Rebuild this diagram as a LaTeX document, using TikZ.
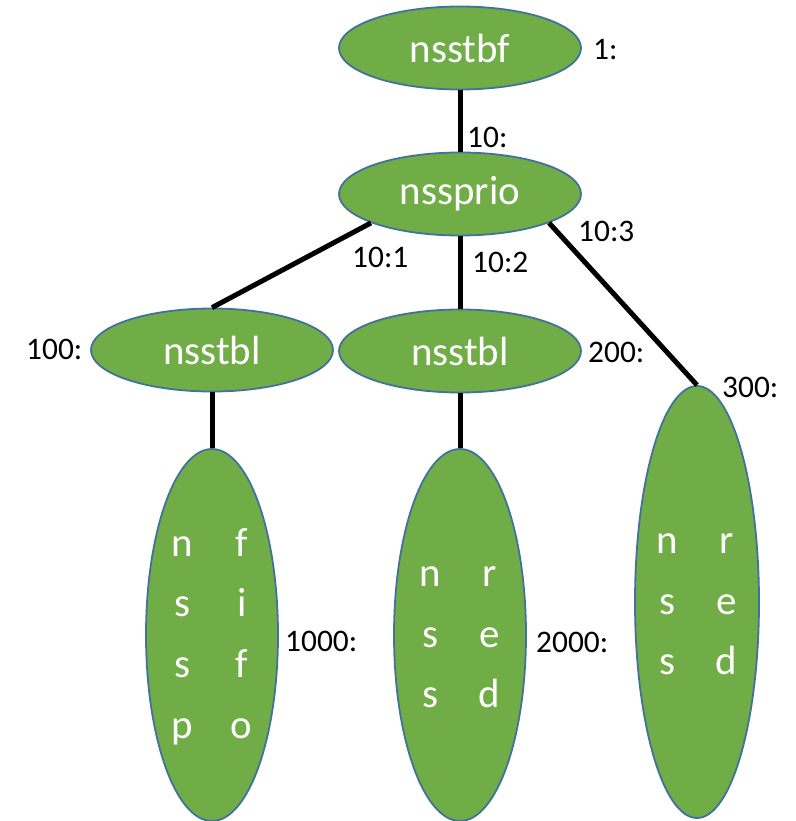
\documentclass[tikz,border=0pt]{standalone}
\usepackage{fontspec}
\setmainfont{Carlito}
\usepackage{xcolor}
\usepackage{tikz}
\usetikzlibrary{shapes.geometric}
\definecolor{leaf}{HTML}{70AD47}
\definecolor{rim}{HTML}{41719C}
\tikzset{
  qdisc/.style={ellipse, draw=rim, line width=1.8bp, fill=leaf, text=white,
    inner sep=0pt, font=\fontsize{41}{61}\selectfont},
  wide/.style={qdisc, minimum width=242bp, minimum height=83bp},
  tall/.style={qdisc, minimum width=132bp, minimum height=372bp},
  edge/.style={draw=black, line width=5bp},
  hlbl/.style={anchor=west, inner sep=0pt, font=\fontsize{31.5}{36}\selectfont}
}
\newcommand{\pairs}[1]{\begin{tabular}{@{}c@{\hspace{38bp}}c@{}}#1\end{tabular}}

\begin{document}
\begin{tikzpicture}[x=1bp, y=-1bp]
  \useasboundingbox (0,0) rectangle (796,821);

  % qdisc nodes
  \node[wide] (tbf)  at (460,48)  {nsstbf};
  \node[wide] (prio) at (460,194) {nssprio};
  \node[wide] (tblA) at (212,350) {nsstbl};
  \node[wide] (tblB) at (460,351) {nsstbl};
  \node[tall] (fifoq) at (212,635) {\pairs{n & f\\ s & i\\ s & f\\ p & o}};
  \node[tall] (redB) at (460,635) {\pairs{n & r\\ s & e\\ s & d}};
  \node[tall, minimum width=124bp, minimum height=432bp] (redC) at (697,602)
    {\pairs{n & r\\ s & e\\ s & d}};

  % links
  \draw[edge] (tbf) -- (prio);
  \draw[edge] (prio.198) -- (tblA.north);
  \draw[edge] (prio) -- (tblB);
  \draw[edge] (prio.-18) -- (redC.north);
  \draw[edge] (tblA) -- (fifoq);
  \draw[edge] (tblB) -- (redB);

  % handles
  \node[hlbl] (h1)    at (593,50)  {1:};
  \node[hlbl] (h10)   at (467,137) {10:};
  \node[hlbl] (h101)  at (352,257) {10:1};
  \node[hlbl] (h102)  at (472,262) {10:2};
  \node[hlbl] (h103)  at (578,231) {10:3};
  \node[hlbl] (h100)  at (26,349)  {100:};
  \node[hlbl] (h200)  at (588,352) {200:};
  \node[hlbl] (h300)  at (722,387) {300:};
  \node[hlbl] (h1000) at (285,641) {1000:};
  \node[hlbl] (h2000) at (536,642) {2000:};
\end{tikzpicture}
\end{document}
